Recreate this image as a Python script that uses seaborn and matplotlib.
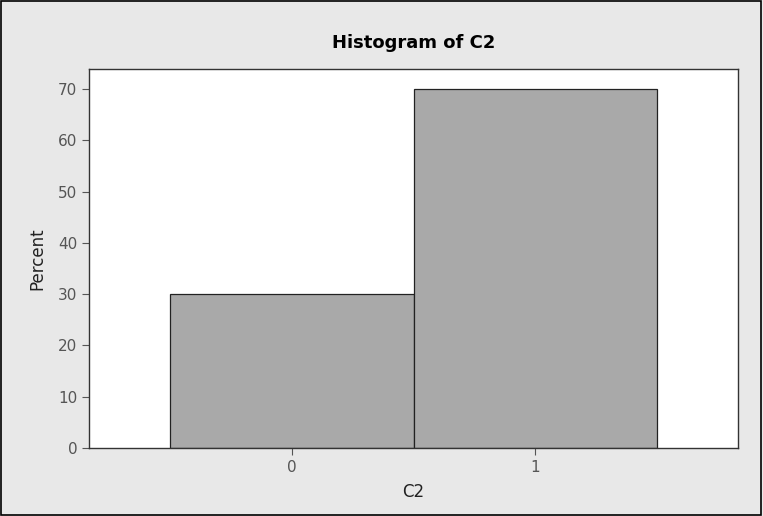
import matplotlib
matplotlib.use('Agg')
import matplotlib.pyplot as plt
import seaborn as sns
from matplotlib.patches import Rectangle

# values
c2_values = [0, 1]
percents = [30, 70]
y_ticks = [0, 10, 20, 30, 40, 50, 60, 70]

sns.set_style('white')
plt.rcParams['font.family'] = ['DejaVu Sans']

fig = plt.figure(figsize=(7.63, 5.16), dpi=100)
fig.patch.set_facecolor('#e8e8e8')
ax = fig.add_axes([89 / 763, 1 - 448 / 516, (738 - 89) / 763, (448 - 69) / 516])
ax.set_facecolor('white')

sns.histplot(x=c2_values, weights=percents, discrete=True, stat='count',
             color='#a9a9a9', edgecolor='#222222', linewidth=0.9, alpha=1, ax=ax)

ax.set_xlim(-0.83, 1.83)
ax.set_ylim(0, 73.9)
ax.set_xticks(c2_values)
ax.set_yticks(y_ticks)
ax.tick_params(axis='both', which='both', direction='out', length=5, width=0.8,
               colors='#555555', labelsize=11, left=True, bottom=True)
for s in ax.spines.values():
    s.set_color('#333333')
    s.set_linewidth(1)

ax.set_xlabel('C2', fontsize=12, color='#222222', labelpad=6)
ax.set_ylabel('Percent', fontsize=12, color='#222222', labelpad=8)
ax.set_title('Histogram of C2', fontsize=13, fontweight='bold', color='black', pad=15)

fig.patches.append(Rectangle((0.001, 0.001), 0.997, 0.997, transform=fig.transFigure,
                             fill=False, edgecolor='black', linewidth=1.2))

plt.savefig('out.png', dpi=100, facecolor=fig.get_facecolor())
